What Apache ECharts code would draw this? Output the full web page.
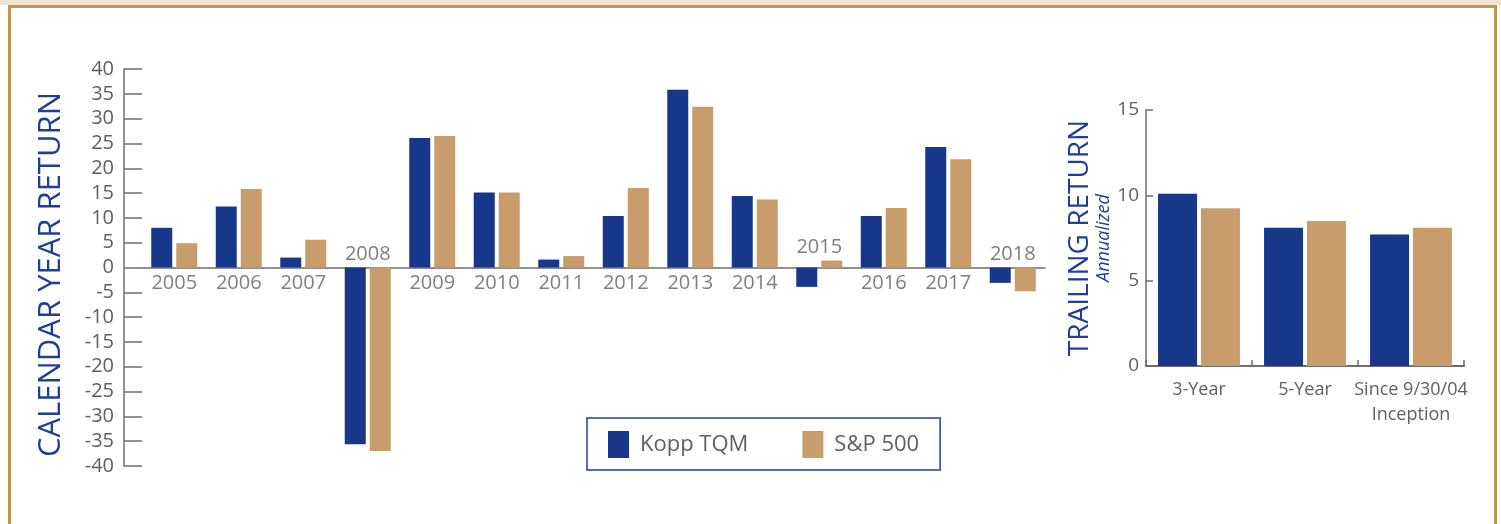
<!DOCTYPE html>
<html>
<head>
<meta charset="utf-8">
<script src="https://cdn.jsdelivr.net/npm/echarts@6/dist/echarts.min.js"></script>
<style>
  html, body { margin: 0; padding: 0; background: #fff; }
  #wrap { position: relative; width: 1501px; height: 524px; overflow: hidden; }
  #band { position: absolute; left: 0; top: 0; width: 1501px; height: 5px; background: #f1e3d2; }
  #frame { position: absolute; left: 8px; top: 5px; width: 1483px; height: 600px; border: 3px solid #c4914f; border-bottom: none; }
  #chart { position: absolute; left: 0; top: 0; width: 1501px; height: 524px; }
</style>
</head>
<body>
<div id="wrap">
  <div id="band"></div>
  <div id="frame"></div>
  <div id="chart"></div>
</div>
<script>
// Calendar year returns
const years = ['2005','2006','2007','2008','2009','2010','2011','2012','2013','2014','2015','2016','2017','2018'];
const koppTQM = [8.0, 12.3, 2.0, -35.6, 26.1, 15.1, 1.6, 10.4, 35.8, 14.4, -3.9, 10.4, 24.3, -3.1];
const sp500   = [4.9, 15.8, 5.6, -37.0, 26.5, 15.1, 2.3, 16.0, 32.4, 13.7, 1.4, 12.0, 21.8, -4.8];
const yTicksLeft = { min: -40, max: 40, step: 5 };

// Trailing returns (annualized)
const periods = ['3-Year', '5-Year', 'Since 9/30/04\nInception'];
const koppTrailing = [10.1, 8.1, 7.7];
const spTrailing   = [9.25, 8.5, 8.1];
const yTicksRight = { min: 0, max: 15, step: 5 };

const seriesNames = ['Kopp TQM', 'S&P 500'];

const BLUE = '#16378a';
const TAN = '#c89c6b';
const GREY = '#5f5f5f';
const AXIS = '#6e6e6e';
const TITLE = '#1f3f96';
const FONT = "'Open Sans', 'Liberation Sans', sans-serif";

// years with a negative bar carry their label above the highest bar (or zero); others below the zero line
const hasNegative = years.map((y, i) => koppTQM[i] < 0 || sp500[i] < 0);
const labelsAbove = years.map((y, i) => hasNegative[i] ? Math.max(0, koppTQM[i], sp500[i]) : '-');
const labelsBelow = years.map((y, i) => hasNegative[i] ? '-' : 0);

const chart = echarts.init(document.getElementById('chart'), null, { renderer: 'canvas' });

const yearLabelSeries = (data, position, distance) => ({
  type: 'scatter', xAxisIndex: 0, yAxisIndex: 0,
  data: data, symbolSize: 1, itemStyle: { color: 'rgba(0,0,0,0)' },
  silent: true, z: 5,
  label: {
    show: true, position: position, distance: distance,
    fontSize: 20, color: GREY, fontFamily: FONT,
    formatter: p => years[p.dataIndex]
  }
});

const option = {
  animation: false,
  backgroundColor: 'transparent',
  textStyle: { fontFamily: FONT },
  color: [BLUE, TAN],
  legend: {
    data: seriesNames,
    left: 587,
    top: 418,
    orient: 'horizontal',
    itemWidth: 21,
    itemHeight: 27,
    itemGap: 54,
    padding: [13, 21, 12, 21],
    borderColor: '#1f3f96',
    borderWidth: 1.5,
    icon: 'rect',
    selectedMode: false,
    textStyle: { fontSize: 22, color: GREY, fontFamily: FONT, padding: [0, 0, 0, 6] }
  },
  grid: [
    { left: 142, right: 456, top: 69, bottom: 58 },
    { left: 1146, right: 37, top: 110, bottom: 158 }
  ],
  xAxis: [
    {
      type: 'category', gridIndex: 0, data: years,
      axisLine: { onZero: true, lineStyle: { color: AXIS, width: 1.5 } },
      axisTick: { show: false },
      axisLabel: { show: false }
    },
    {
      type: 'category', gridIndex: 1, data: periods,
      axisLine: { lineStyle: { color: AXIS, width: 2 } },
      axisTick: { show: true, inside: true, length: 6, interval: 0, lineStyle: { color: AXIS, width: 1.5 } },
      axisLabel: { fontSize: 18, color: GREY, margin: 11, interval: 0, lineHeight: 25 }
    }
  ],
  yAxis: [
    {
      type: 'value', gridIndex: 0,
      min: yTicksLeft.min, max: yTicksLeft.max, interval: yTicksLeft.step,
      offset: 18,
      name: 'CALENDAR YEAR RETURN',
      nameLocation: 'middle', nameRotate: 90, nameGap: 57,
      nameTextStyle: { fontSize: 31, color: TITLE, fontFamily: FONT, padding: [0, 14, 0, 0] },
      axisLine: { show: true, lineStyle: { color: AXIS, width: 1.5 } },
      axisTick: { show: true, inside: true, length: 18, lineStyle: { color: AXIS, width: 1.5 } },
      axisLabel: { fontSize: 20, color: GREY, margin: 10 },
      splitLine: { show: false }
    },
    {
      type: 'value', gridIndex: 1,
      min: yTicksRight.min, max: yTicksRight.max, interval: yTicksRight.step,
      name: '{a|TRAILING RETURN}\n{b|Annualized}',
      nameLocation: 'middle', nameRotate: 90, nameGap: 28,
      nameTextStyle: {
        rich: {
          a: { fontSize: 28, color: TITLE, fontFamily: FONT, lineHeight: 28 },
          b: { fontSize: 18, color: TITLE, fontFamily: FONT, fontStyle: 'italic', lineHeight: 20 }
        }
      },
      axisLine: { show: true, lineStyle: { color: AXIS, width: 1.5 } },
      axisTick: { show: true, inside: true, length: 7, lineStyle: { color: AXIS, width: 1.5 } },
      axisLabel: { fontSize: 19, color: GREY, margin: 7 },
      splitLine: { show: false }
    }
  ],
  series: [
    {
      name: seriesNames[0], type: 'bar', xAxisIndex: 0, yAxisIndex: 0,
      data: koppTQM, barWidth: 21, barGap: '19%', itemStyle: { color: BLUE }
    },
    {
      name: seriesNames[1], type: 'bar', xAxisIndex: 0, yAxisIndex: 0,
      data: sp500, barWidth: 21, barGap: '19%', itemStyle: { color: TAN }
    },
    yearLabelSeries(labelsAbove, 'top', 3),
    yearLabelSeries(labelsBelow, 'bottom', 5),
    {
      name: seriesNames[0], type: 'bar', xAxisIndex: 1, yAxisIndex: 1,
      data: koppTrailing, barWidth: 39, barGap: '10%', itemStyle: { color: BLUE }
    },
    {
      name: seriesNames[1], type: 'bar', xAxisIndex: 1, yAxisIndex: 1,
      data: spTrailing, barWidth: 39, barGap: '10%', itemStyle: { color: TAN }
    }
  ]
};

chart.setOption(option);
</script>
</body>
</html>
